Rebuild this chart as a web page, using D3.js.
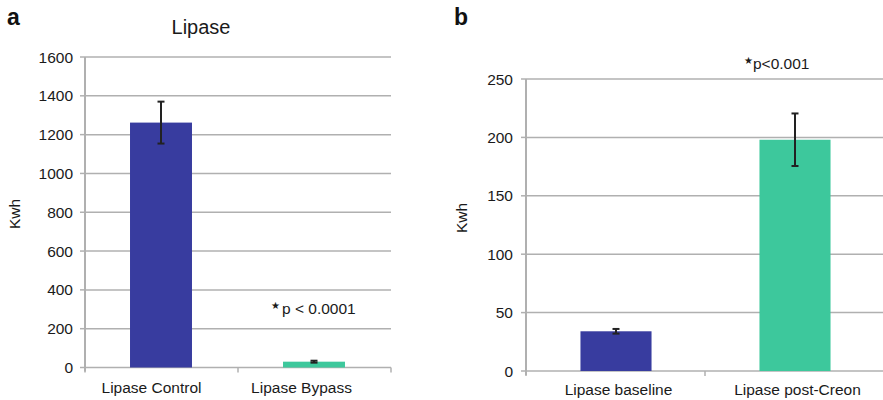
<!DOCTYPE html>
<html>
<head>
<meta charset="utf-8">
<script src="https://cdn.jsdelivr.net/npm/d3@7/dist/d3.min.js"></script>
<style>
  html, body { margin: 0; padding: 0; background: #fff; }
  svg { display: block; font-family: "Liberation Sans", Arial, sans-serif; }
</style>
</head>
<body>
<svg id="chart" width="883" height="400"></svg>
<script>
// Panel a: lipase, control vs bypass
const lipaseCategoriesA = ["Lipase Control", "Lipase Bypass"];
const lipaseMeansA = [1262, 30];
const lipaseErrorsA = [108, 5];
const lipaseTicksA = [0, 200, 400, 600, 800, 1000, 1200, 1400, 1600];

// Panel b: lipase, baseline vs post-Creon
const lipaseCategoriesB = ["Lipase baseline", "Lipase post-Creon"];
const lipaseMeansB = [34, 198];
const lipaseErrorsB = [2, 22.5];
const lipaseTicksB = [0, 50, 100, 150, 200, 250];

const barColors = ["#383c9f", "#3dc89c"];
const gridColor = "#b0b0b0";
const textColor = "#1a1a1a";
const fontSize = 15.5;

const svg = d3.select("#chart");

function drawPanel(cfg) {
  const g = svg.append("g");
  const y = d3.scaleLinear().domain([0, cfg.ticks[cfg.ticks.length - 1]]).range([cfg.y0, cfg.y1]);
  const x = d3.scaleBand().domain(cfg.categories).range([cfg.x0, cfg.x1]).padding(0);
  const barW = x.bandwidth() * cfg.barFrac;

  // horizontal gridlines
  g.selectAll("line.grid").data(cfg.ticks).join("line")
    .attr("x1", cfg.x0).attr("x2", cfg.gridEnd)
    .attr("y1", d => y(d)).attr("y2", d => y(d))
    .attr("stroke", gridColor).attr("stroke-width", 1.5);

  // y axis line and ticks
  g.append("line")
    .attr("x1", cfg.x0).attr("x2", cfg.x0)
    .attr("y1", y(0) + 4).attr("y2", y(cfg.ticks[cfg.ticks.length - 1]))
    .attr("stroke", gridColor).attr("stroke-width", 2);
  g.selectAll("line.ytick").data(cfg.ticks).join("line")
    .attr("x1", cfg.x0 - 5).attr("x2", cfg.x0)
    .attr("y1", d => y(d)).attr("y2", d => y(d))
    .attr("stroke", gridColor).attr("stroke-width", 1.5);

  // x axis boundary ticks
  const bounds = cfg.categories.map(c => x(c)).concat([cfg.x1]);
  g.selectAll("line.xtick").data(bounds).join("line")
    .attr("x1", d => d).attr("x2", d => d)
    .attr("y1", y(0)).attr("y2", y(0) + 5)
    .attr("stroke", gridColor).attr("stroke-width", 1.5);

  // y tick labels
  g.selectAll("text.ylab").data(cfg.ticks).join("text")
    .attr("x", cfg.labelX).attr("y", d => y(d)).attr("dy", "0.36em")
    .attr("text-anchor", "end").attr("font-size", fontSize).attr("fill", textColor)
    .text(d => d);

  // bars
  g.selectAll("rect.bar").data(cfg.means).join("rect")
    .attr("x", (d, i) => x(cfg.categories[i]) + x.bandwidth() / 2 - barW / 2 + cfg.barShift)
    .attr("width", barW)
    .attr("y", d => y(d))
    .attr("height", d => y(0) - y(d))
    .attr("fill", (d, i) => barColors[i]);

  // error bars
  const eb = g.selectAll("g.err").data(cfg.means).join("g");
  eb.each(function (d, i) {
    const cx = x(cfg.categories[i]) + x.bandwidth() / 2 + cfg.barShift;
    const e = cfg.errors[i];
    const s = d3.select(this);
    s.append("line").attr("x1", cx).attr("x2", cx).attr("y1", y(d + e)).attr("y2", y(d - e))
      .attr("stroke", "#222").attr("stroke-width", 2);
    [d + e, d - e].forEach(v => {
      s.append("line").attr("x1", cx - 3.5).attr("x2", cx + 3.5).attr("y1", y(v)).attr("y2", y(v))
        .attr("stroke", "#222").attr("stroke-width", 2);
    });
  });

  // category labels
  g.selectAll("text.xlab").data(cfg.categories).join("text")
    .attr("x", (d, i) => x(d) + x.bandwidth() / 2 + cfg.catShift[i])
    .attr("y", cfg.catY)
    .attr("text-anchor", "middle").attr("font-size", fontSize).attr("fill", textColor)
    .text(d => d);

  // y axis title
  g.append("text")
    .attr("transform", `translate(${cfg.yTitleX},${cfg.yTitleY}) rotate(-90)`)
    .attr("text-anchor", "middle").attr("dy", "0.35em")
    .attr("font-size", fontSize).attr("fill", textColor)
    .text("Kwh");

  // panel letter
  g.append("text")
    .attr("x", cfg.letterX).attr("y", 25)
    .attr("font-size", 23).attr("font-weight", "bold").attr("fill", "#111")
    .text(cfg.letter);

  // significance note
  const note = g.append("text")
    .attr("x", cfg.noteX).attr("y", cfg.noteY)
    .attr("font-size", fontSize).attr("fill", textColor);
  note.append("tspan").attr("font-size", 10).attr("dy", -5).text("★");
  note.append("tspan").attr("dy", 5).attr("dx", cfg.noteGap).text(cfg.note);

  return g;
}

const gA = drawPanel({
  categories: lipaseCategoriesA, means: lipaseMeansA, errors: lipaseErrorsA, ticks: lipaseTicksA,
  x0: 85, x1: 391, gridEnd: 391, y0: 367.5, y1: 57, barFrac: 0.405, barShift: -0.5,
  labelX: 73, catY: 393, catShift: [-10, -13],
  yTitleX: 15, yTitleY: 214, letter: "a", letterX: 7,
  note: "p < 0.0001", noteX: 271, noteY: 314, noteGap: 2
});

// chart title for panel a
gA.append("text")
  .attr("x", 201).attr("y", 34)
  .attr("text-anchor", "middle").attr("font-size", 20).attr("fill", textColor)
  .text("Lipase");

drawPanel({
  categories: lipaseCategoriesB, means: lipaseMeansB, errors: lipaseErrorsB, ticks: lipaseTicksB,
  x0: 526, x1: 884, gridEnd: 890, y0: 371, y1: 79, barFrac: 0.397, barShift: 0.5,
  labelX: 513, catY: 395, catShift: [3, 3],
  yTitleX: 462, yTitleY: 218, letter: "b", letterX: 454,
  note: "p<0.001", noteX: 744, noteY: 69, noteGap: 0
});
</script>
</body>
</html>
